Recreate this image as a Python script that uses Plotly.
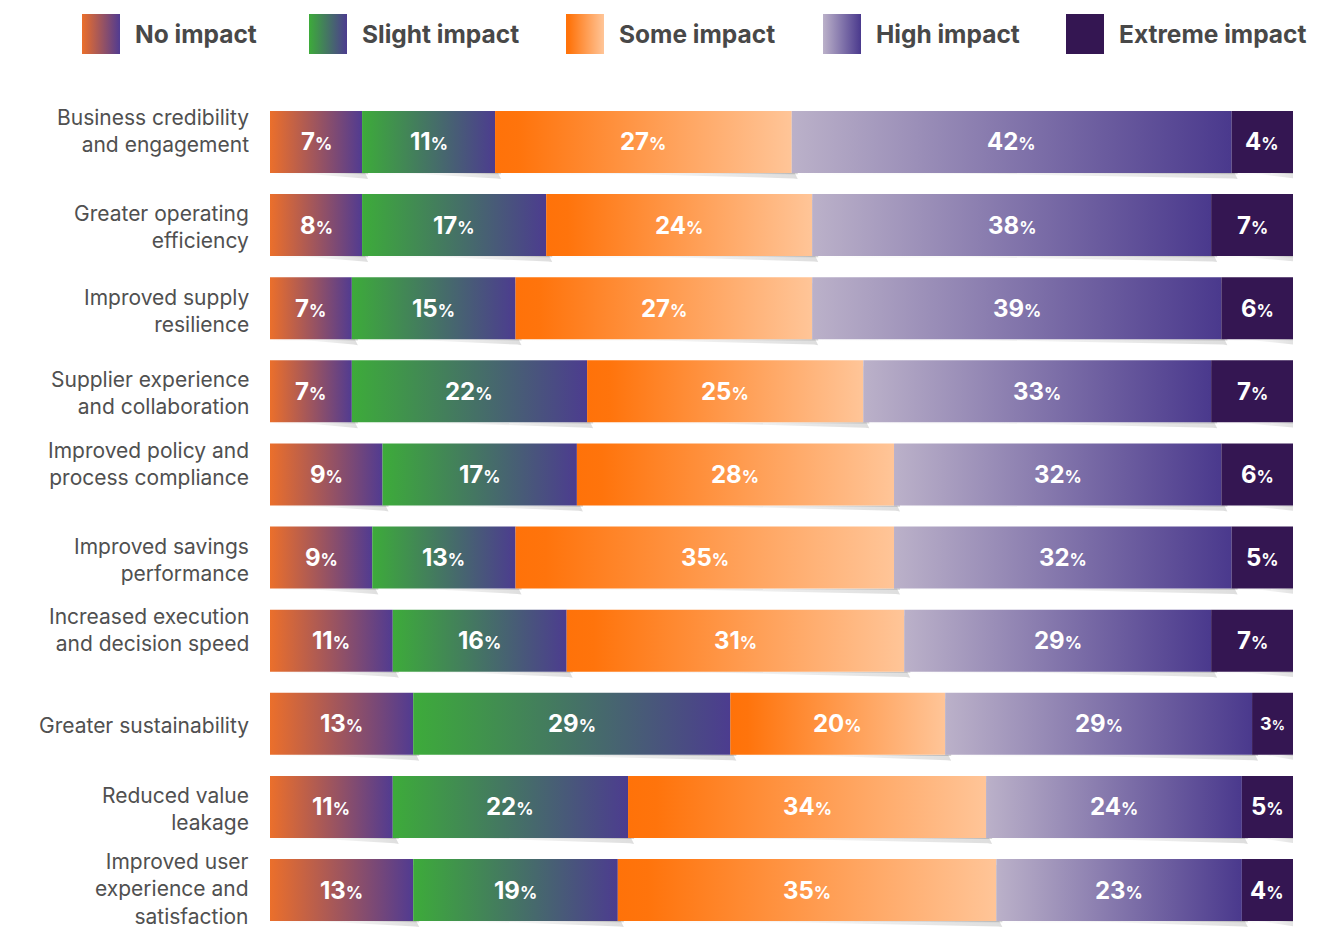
import plotly.graph_objects as go

# ---------------- data ----------------
categories = [
    "Business credibility<br>and engagement",
    "Greater operating<br>efficiency",
    "Improved supply<br>resilience",
    "Supplier experience<br>and collaboration",
    "Improved policy and<br>process compliance",
    "Improved savings<br>performance",
    "Increased execution<br>and decision speed",
    "Greater sustainability",
    "Reduced value<br>leakage",
    "Improved user<br>experience and<br>satisfaction",
]
series_names = ["No impact", "Slight impact", "Some impact", "High impact", "Extreme impact"]

# displayed percentages
no_impact = [7, 8, 7, 7, 9, 9, 11, 13, 11, 13]
slight_impact = [11, 17, 15, 22, 17, 13, 16, 29, 22, 19]
some_impact = [27, 24, 27, 25, 28, 35, 31, 20, 34, 35]
high_impact = [42, 38, 39, 33, 32, 32, 29, 29, 24, 23]
extreme_impact = [4, 7, 6, 7, 6, 5, 7, 3, 5, 4]

# drawn bar lengths (each row spans 100)
no_share = [9, 9, 8, 8, 11, 10, 12, 14, 12, 14]
slight_share = [13, 18, 16, 23, 19, 14, 17, 31, 23, 20]
some_share = [29, 26, 29, 27, 31, 37, 33, 21, 35, 37]
high_share = [43, 39, 40, 34, 32, 33, 30, 30, 25, 24]
extreme_share = [6, 8, 7, 8, 7, 6, 8, 4, 5, 5]

labels = [no_impact, slight_impact, some_impact, high_impact, extreme_impact]
shares = [no_share, slight_share, some_share, high_share, extreme_share]

scales = [
    [[0, "#EB6F2B"], [1, "#513B91"]],
    [[0, "#3DAB3A"], [1, "#4C3C8F"]],
    [[0, "#FF7209"], [0.08, "#FF740C"], [1, "#FFC598"]],
    [[0, "#BBB1C9"], [1, "#4A398D"]],
    [[0, "#341652"], [1, "#341652"]],
]

# ---------------- layout constants ----------------
W, H = 1338, 929
X0PX, X1PX = 270, 1293
TOPPX = 100
Y_RANGE = [9.469, -0.505]
HALF = 0.373
PX_X = (X1PX - X0PX) / 100.0
PX_Y = (H - TOPPX) / (Y_RANGE[0] - Y_RANGE[1])
label_nudge = [11, -2, -3, -2, 10, -2, 11, -2, -2, 1]  # px upward shift of row labels

fig = go.Figure()

# shadows first
for i in range(len(categories)):
    start = 0
    for s in range(5):
        w = shares[s][i]
        x0, x1 = start, start + w
        bot = i + HALF
        dx = 6 / PX_X
        dy = 6 / PX_Y
        fig.add_trace(go.Scatter(
            x=[x0 + 0.3, x1 + dx, x1 + dx, x1, x1, x0 + 0.3, x0 + 0.3],
            y=[bot, bot + dy * 0.2, i - HALF + dy, i - HALF + dy, bot, bot + dy * 0.3, bot],
            fill="toself", mode="lines", line=dict(width=0),
            fillgradient=dict(type="horizontal",
                              colorscale=[[0, "rgba(0,0,0,0.0)"], [0.6, "rgba(0,0,0,0.07)"], [1, "rgba(0,0,0,0.16)"]],
                              start=x0, stop=x1 + dx),
            hoverinfo="skip", showlegend=False,
        ))
        fig.add_trace(go.Scatter(
            x=[x0 + w * 0.3, x1 + dx * 0.5, x1 + dx, x1 + dx * 0.3, x0 + w * 0.3],
            y=[bot, bot, bot + dy, bot + dy * 0.9, bot],
            fill="toself", mode="lines", line=dict(width=0),
            fillgradient=dict(type="horizontal",
                              colorscale=[[0, "rgba(0,0,0,0.0)"], [1, "rgba(0,0,0,0.13)"]],
                              start=x0 + w * 0.3, stop=x1 + dx),
            hoverinfo="skip", showlegend=False,
        ))
        start = x1

annotations = []
for i in range(len(categories)):
    start = 0
    for s in range(5):
        w = shares[s][i]
        x0, x1 = start, start + w
        fig.add_trace(go.Scatter(
            x=[x0, x1, x1, x0, x0],
            y=[i - HALF, i - HALF, i + HALF, i + HALF, i - HALF],
            fill="toself", mode="lines", line=dict(width=0),
            fillgradient=dict(type="horizontal", colorscale=scales[s], start=x0, stop=x1),
            name=series_names[s], hoverinfo="skip", showlegend=False,
        ))
        v = labels[s][i]
        big, small = (24, 17) if w >= 5 else (18, 13)
        annotations.append(dict(
            x=(x0 + x1) / 2, y=i, xref="x", yref="y", showarrow=False,
            text=f"<b>{v}</b><span style='font-size:{small}px'><b>%</b></span>",
            font=dict(family="Inter, Roboto, sans-serif", size=big, color="white"),
            xanchor="center", yanchor="middle",
        ))
        start = x1
    annotations.append(dict(
        x=251 / W, y=i, xref="paper", yref="y", showarrow=False, yshift=label_nudge[i],
        text=categories[i], align="right", xanchor="right", yanchor="middle",
        font=dict(family="Inter, Roboto, sans-serif", size=21, color="#505050"),
    ))

# legend (swatches on an overlay pixel axis)
leg_x = [82, 309, 566, 823, 1066]
for s in range(5):
    lx0, lx1 = leg_x[s], leg_x[s] + 38
    fig.add_trace(go.Scatter(
        x=[lx0, lx1, lx1, lx0, lx0], y=[14, 14, 54, 54, 14],
        xaxis="x2", yaxis="y2", fill="toself", mode="lines", line=dict(width=0),
        fillgradient=dict(type="horizontal", colorscale=scales[s], start=lx0, stop=lx1),
        hoverinfo="skip", showlegend=False,
    ))
    annotations.append(dict(
        x=(lx1 + 13) / W, y=1 - 34 / H, xref="paper", yref="paper", showarrow=False,
        text=f"<b>{series_names[s]}</b>", xanchor="left", yanchor="middle",
        font=dict(family="Inter, Roboto, sans-serif", size=24.5, color="#484848"),
    ))

fig.update_layout(
    width=W, height=H,
    margin=dict(l=0, r=0, t=0, b=0),
    paper_bgcolor="white", plot_bgcolor="rgba(0,0,0,0)",
    showlegend=False,
    xaxis=dict(domain=[X0PX / W, X1PX / W], range=[0, 100], visible=False, fixedrange=True),
    yaxis=dict(domain=[0, (H - TOPPX) / H], range=Y_RANGE, visible=False, fixedrange=True),
    xaxis2=dict(domain=[0, 1], range=[0, W], visible=False, anchor="y2", fixedrange=True),
    yaxis2=dict(domain=[0, 1], range=[H, 0], visible=False, anchor="x2", fixedrange=True),
    annotations=annotations,
)

fig.write_html("out.html")
